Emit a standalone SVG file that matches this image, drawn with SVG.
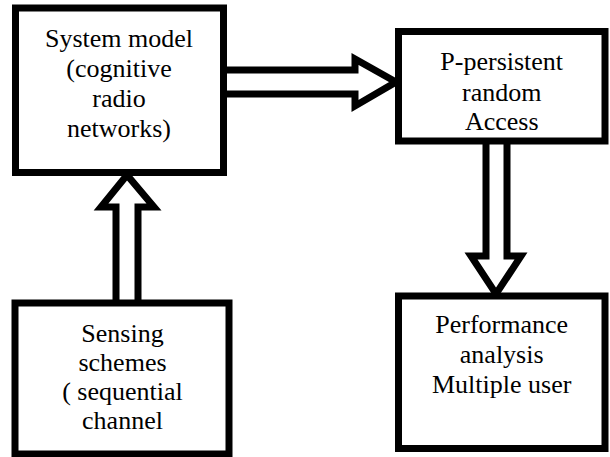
<svg xmlns="http://www.w3.org/2000/svg" width="610" height="457" viewBox="0 0 610 457">
<style>
.box{fill:#fff;stroke:#000;stroke-width:7}
.arr{fill:#fff;stroke:#000;stroke-width:7;stroke-linejoin:miter;stroke-miterlimit:10}
.t{font-family:"Liberation Serif","Times New Roman",serif;font-size:26px;fill:#000;text-anchor:middle}
</style>
<rect width="610" height="457" fill="#fff"/>
<g id="connectors">
<path class="arr" d="M223.5,70 H355 V59 L396,82 L355,106 V94 H223.5"/>
<path class="arr" d="M116,303 V207 H101 L127,175 L154,207 H138 V303"/>
<path class="arr" d="M486,141 V256 H471 L496,294 L521,256 H507 V141"/>
</g>
<g id="system-model">
<rect class="box" x="15.5" y="8" width="208" height="164.5"/>
<text class="t" x="119" y="46.5">System model</text>
<text class="t" x="119" y="76.5">(cognitive</text>
<text class="t" x="119" y="106.5">radio</text>
<text class="t" x="119" y="136.5">networks)</text>
</g>
<g id="p-persistent">
<rect class="box" x="398.5" y="31.5" width="206.5" height="109.5"/>
<text class="t" x="501.7" y="70">P-persistent</text>
<text class="t" x="501.7" y="100.5">random</text>
<text class="t" x="501.7" y="130">Access</text>
</g>
<g id="performance">
<rect class="box" x="398.5" y="296" width="206.5" height="152.5"/>
<text class="t" x="501.7" y="333">Performance</text>
<text class="t" x="501.7" y="363">analysis</text>
<text class="t" x="501.7" y="393">Multiple user</text>
</g>
<g id="sensing">
<rect class="box" x="15" y="303" width="214" height="151"/>
<text class="t" x="122.5" y="342">Sensing</text>
<text class="t" x="122.5" y="371">schemes</text>
<text class="t" x="122.5" y="400">( sequential</text>
<text class="t" x="122.5" y="429">channel</text>
</g>
</svg>
